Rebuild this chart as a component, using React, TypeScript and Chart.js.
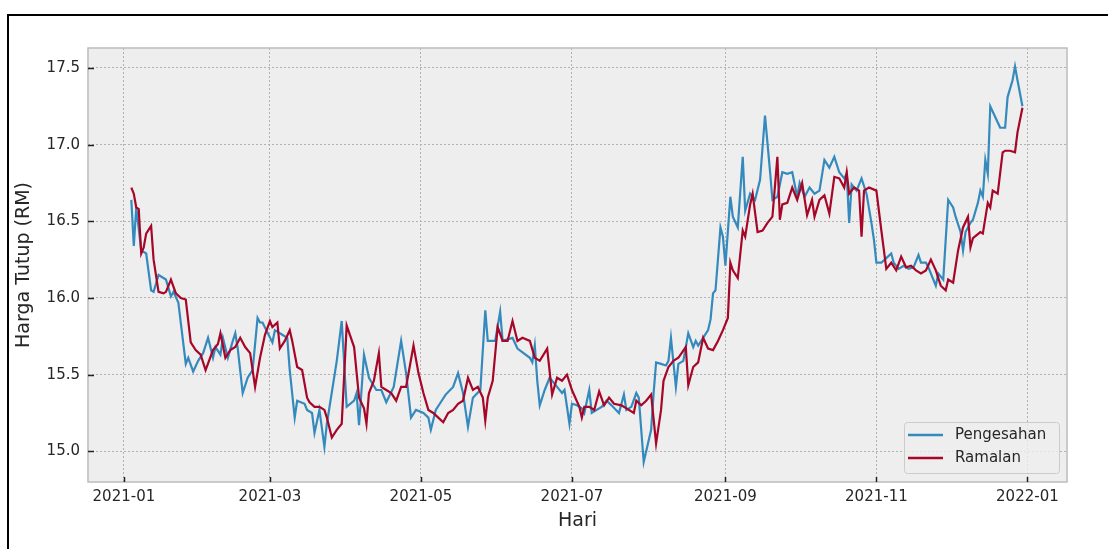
import React, { useEffect, useRef } from "react";
import { Chart, registerables } from "chart.js";

Chart.register(...registerables);

// Day offsets counted from 2021-01-01 ("Hari")
const pengesahanHari = [3, 4, 5, 7, 9, 11, 12, 14, 17, 19, 20, 22, 25, 26, 28, 30, 32, 34, 36, 37, 39, 40, 42, 44, 45, 46, 48, 50, 52, 54, 55, 56, 60, 61, 64, 66, 67, 69, 70, 73, 74, 76, 77, 79, 81, 82, 86, 88, 90, 93, 94, 95, 97, 99, 102, 104, 106, 109, 112, 114, 116, 118, 121, 123, 124, 126, 128, 130, 133, 135, 137, 139, 141, 144, 146, 147, 150, 152, 153, 157, 159, 164, 165, 166, 167, 168, 170, 172, 175, 177, 178, 180, 181, 183, 185, 186, 188, 189, 191, 193, 195, 197, 200, 202, 203, 205, 207, 208, 210, 213, 214, 215, 217, 219, 220, 221, 223, 224, 226, 228, 230, 231, 232, 236, 237, 238, 239, 241, 242, 243, 245, 246, 248, 250, 251, 253, 255, 257, 259, 261, 262, 264, 266, 268, 270, 272, 273, 275, 277, 279, 281, 283, 285, 287, 289, 291, 292, 293, 294, 296, 298, 300, 302, 303, 304, 306, 308, 310, 311, 313, 315, 317, 319, 321, 322, 324, 325, 327, 328, 329, 331, 333, 335, 336, 338, 339, 340, 342, 343, 345, 346, 347, 348, 349, 350, 352, 354, 356, 357, 359, 360, 361, 363];
const pengesahanHarga = [16.64, 16.34, 16.59, 16.31, 16.29, 16.05, 16.04, 16.15, 16.12, 16.01, 16.04, 15.97, 15.57, 15.61, 15.52, 15.59, 15.64, 15.74, 15.61, 15.68, 15.63, 15.74, 15.61, 15.72, 15.77, 15.67, 15.38, 15.48, 15.53, 15.87, 15.84, 15.84, 15.71, 15.79, 15.76, 15.74, 15.53, 15.22, 15.33, 15.31, 15.27, 15.25, 15.12, 15.27, 15.03, 15.18, 15.59, 15.85, 15.29, 15.33, 15.38, 15.17, 15.63, 15.48, 15.40, 15.40, 15.32, 15.42, 15.72, 15.51, 15.22, 15.27, 15.25, 15.22, 15.14, 15.27, 15.32, 15.37, 15.42, 15.51, 15.38, 15.16, 15.35, 15.40, 15.92, 15.72, 15.72, 15.91, 15.72, 15.74, 15.67, 15.61, 15.58, 15.69, 15.46, 15.30, 15.40, 15.48, 15.42, 15.38, 15.40, 15.18, 15.31, 15.30, 15.28, 15.25, 15.40, 15.25, 15.27, 15.29, 15.33, 15.30, 15.25, 15.37, 15.27, 15.29, 15.38, 15.35, 14.93, 15.14, 15.38, 15.58, 15.57, 15.56, 15.59, 15.74, 15.42, 15.57, 15.59, 15.77, 15.68, 15.72, 15.69, 15.79, 15.86, 16.03, 16.05, 16.46, 16.40, 16.21, 16.66, 16.53, 16.46, 16.92, 16.57, 16.68, 16.64, 16.77, 17.19, 16.83, 16.64, 16.66, 16.82, 16.81, 16.82, 16.66, 16.75, 16.66, 16.72, 16.68, 16.70, 16.90, 16.85, 16.92, 16.82, 16.78, 16.81, 16.49, 16.74, 16.70, 16.78, 16.68, 16.49, 16.38, 16.23, 16.23, 16.26, 16.29, 16.23, 16.19, 16.21, 16.19, 16.20, 16.28, 16.23, 16.23, 16.20, 16.12, 16.08, 16.16, 16.12, 16.64, 16.59, 16.53, 16.43, 16.31, 16.43, 16.49, 16.51, 16.62, 16.70, 16.66, 16.90, 16.81, 17.25, 17.18, 17.11, 17.11, 17.31, 17.42, 17.51, 17.42, 17.25];

const ramalanHari = [3, 4, 5, 6, 7, 8, 9, 11, 12, 14, 16, 17, 19, 21, 23, 25, 27, 29, 31, 33, 36, 38, 39, 41, 43, 45, 47, 49, 51, 53, 55, 57, 59, 60, 62, 63, 65, 67, 68, 70, 72, 74, 75, 77, 79, 81, 82, 84, 86, 88, 90, 93, 95, 97, 98, 99, 101, 103, 104, 106, 108, 110, 112, 114, 117, 119, 121, 123, 125, 127, 129, 131, 133, 135, 137, 139, 141, 143, 145, 146, 147, 149, 151, 153, 155, 157, 159, 161, 164, 166, 168, 171, 173, 175, 177, 179, 181, 184, 185, 186, 188, 190, 192, 194, 196, 198, 201, 203, 206, 207, 209, 211, 213, 215, 217, 218, 220, 222, 224, 227, 228, 230, 232, 234, 236, 238, 240, 242, 244, 245, 246, 248, 250, 251, 253, 254, 256, 258, 260, 262, 264, 265, 266, 268, 270, 272, 274, 276, 278, 279, 281, 283, 285, 287, 289, 291, 292, 293, 295, 297, 298, 299, 301, 304, 306, 308, 310, 312, 314, 316, 318, 320, 322, 324, 326, 328, 330, 332, 333, 335, 337, 339, 341, 342, 343, 346, 347, 349, 350, 351, 353, 355, 356, 358, 360, 361, 363];
const ramalanHarga = [16.72, 16.68, 16.59, 16.58, 16.29, 16.33, 16.42, 16.47, 16.25, 16.04, 16.03, 16.04, 16.12, 16.03, 16.00, 15.99, 15.71, 15.66, 15.63, 15.53, 15.66, 15.70, 15.77, 15.61, 15.66, 15.68, 15.74, 15.68, 15.64, 15.42, 15.61, 15.76, 15.85, 15.81, 15.84, 15.67, 15.72, 15.79, 15.72, 15.55, 15.53, 15.35, 15.32, 15.29, 15.29, 15.27, 15.22, 15.09, 15.14, 15.18, 15.82, 15.68, 15.35, 15.28, 15.18, 15.38, 15.46, 15.64, 15.42, 15.40, 15.38, 15.33, 15.42, 15.42, 15.69, 15.51, 15.38, 15.27, 15.25, 15.22, 15.19, 15.25, 15.27, 15.31, 15.33, 15.48, 15.40, 15.42, 15.35, 15.20, 15.35, 15.46, 15.81, 15.72, 15.72, 15.85, 15.72, 15.74, 15.72, 15.61, 15.59, 15.67, 15.37, 15.48, 15.46, 15.50, 15.40, 15.29, 15.22, 15.29, 15.29, 15.27, 15.39, 15.30, 15.35, 15.31, 15.30, 15.28, 15.25, 15.33, 15.30, 15.33, 15.37, 15.05, 15.27, 15.46, 15.55, 15.59, 15.61, 15.68, 15.43, 15.55, 15.58, 15.74, 15.67, 15.66, 15.72, 15.79, 15.87, 16.23, 16.18, 16.13, 16.44, 16.40, 16.61, 16.68, 16.43, 16.44, 16.49, 16.53, 16.92, 16.51, 16.61, 16.62, 16.72, 16.64, 16.75, 16.54, 16.64, 16.53, 16.64, 16.67, 16.55, 16.79, 16.78, 16.72, 16.82, 16.68, 16.72, 16.70, 16.40, 16.70, 16.72, 16.70, 16.44, 16.19, 16.23, 16.18, 16.27, 16.20, 16.21, 16.18, 16.16, 16.18, 16.25, 16.18, 16.08, 16.05, 16.12, 16.10, 16.31, 16.46, 16.53, 16.33, 16.39, 16.43, 16.42, 16.62, 16.59, 16.70, 16.68, 16.95, 16.96, 16.96, 16.95, 17.08, 17.24];

const bulanTickHari = [0, 59, 120, 181, 243, 304, 365];
const bulanTickLabel = ["2021-01", "2021-03", "2021-05", "2021-07", "2021-09", "2021-11", "2022-01"];
const hargaTicks = [15.0, 15.5, 16.0, 16.5, 17.0, 17.5];

const FONT = "'DejaVu Sans', sans-serif";
const TEXT = "#262626";

const decorPlugin = {
  id: "decor",
  beforeDraw(chart: any) {
    const { ctx, chartArea: a } = chart;
    ctx.save();
    ctx.fillStyle = "#eeeeee";
    ctx.fillRect(a.left, a.top, a.right - a.left, a.bottom - a.top);
    ctx.restore();
  },
  afterDraw(chart: any) {
    const { ctx, chartArea: a, scales } = chart;
    ctx.save();
    // frame
    ctx.strokeStyle = "#bcbcbc";
    ctx.lineWidth = 1.5;
    ctx.strokeRect(a.left, a.top, a.right - a.left, a.bottom - a.top);
    // inward ticks
    ctx.strokeStyle = "#222222";
    ctx.lineWidth = 1.5;
    scales.y.ticks.forEach((t: any) => {
      const y = Math.round(scales.y.getPixelForValue(t.value)) + 0.5;
      ctx.beginPath();
      ctx.moveTo(a.left, y);
      ctx.lineTo(a.left + 6, y);
      ctx.stroke();
    });
    scales.x.ticks.forEach((t: any) => {
      const x = Math.round(scales.x.getPixelForValue(t.value)) + 0.5;
      ctx.beginPath();
      ctx.moveTo(x, a.bottom);
      ctx.lineTo(x, a.bottom - 5);
      ctx.stroke();
    });
    // legend
    const w = 155;
    const h = 51;
    const x0 = a.right - 8 - w;
    const y0 = a.bottom - 9 - h;
    ctx.fillStyle = "rgba(238,238,238,0.8)";
    ctx.strokeStyle = "#cccccc";
    ctx.lineWidth = 1;
    ctx.beginPath();
    if ((ctx as any).roundRect) (ctx as any).roundRect(x0 + 0.5, y0 + 0.5, w, h, 3);
    else ctx.rect(x0 + 0.5, y0 + 0.5, w, h);
    ctx.fill();
    ctx.stroke();
    ctx.font = `15px ${FONT}`;
    ctx.textBaseline = "middle";
    ctx.textAlign = "left";
    chart.data.datasets.forEach((ds: any, i: number) => {
      const y = y0 + 13 + i * 23;
      ctx.strokeStyle = ds.borderColor;
      ctx.lineWidth = 2.5;
      ctx.beginPath();
      ctx.moveTo(x0 + 4, y);
      ctx.lineTo(x0 + 39, y);
      ctx.stroke();
      ctx.fillStyle = TEXT;
      ctx.fillText(ds.label, x0 + 51, y);
    });
    ctx.restore();
  },
};

export default function App() {
  const ref = useRef<HTMLCanvasElement>(null);
  useEffect(() => {
    if (!ref.current) return;
    const chart = new Chart(ref.current, {
      type: "line",
      data: {
        datasets: [
          {
            label: "Pengesahan",
            data: pengesahanHari.map((h, i) => ({ x: h, y: pengesahanHarga[i] })),
            borderColor: "#348ABD",
            borderWidth: 2.2,
            pointRadius: 0,
            tension: 0,
            order: 2,
          },
          {
            label: "Ramalan",
            data: ramalanHari.map((h, i) => ({ x: h, y: ramalanHarga[i] })),
            borderColor: "#A60628",
            borderWidth: 2.2,
            pointRadius: 0,
            tension: 0,
            order: 1,
          },
        ],
      },
      options: {
        animation: false,
        responsive: false,
        maintainAspectRatio: false,
        layout: { padding: { left: 0, top: 48, right: 41, bottom: 0 } },
        plugins: { legend: { display: false }, tooltip: { enabled: false } },
        scales: {
          x: {
            type: "linear",
            min: -14.5,
            max: 381,
            afterBuildTicks: (s: any) => {
              s.ticks = bulanTickHari.map((v) => ({ value: v }));
            },
            afterFit: (s: any) => {
              s.height = 67;
            },
            grid: { color: "#b2b2b2", lineWidth: 1, drawTicks: false },
            border: { display: false, dash: [2, 2] },
            ticks: {
              padding: 6,
              maxRotation: 0,
              autoSkip: false,
              color: TEXT,
              font: { family: FONT, size: 15 },
              callback: (v: any) => {
                const i = bulanTickHari.indexOf(Number(v));
                return i >= 0 ? bulanTickLabel[i] : "";
              },
            },
            title: {
              display: true,
              text: "Hari",
              color: TEXT,
              font: { family: FONT, size: 19 },
              padding: { top: 0, bottom: 17 },
            },
          },
          y: {
            min: 14.8,
            max: 17.63,
            afterBuildTicks: (s: any) => {
              s.ticks = hargaTicks.map((v) => ({ value: v }));
            },
            afterFit: (s: any) => {
              s.width = 88;
            },
            grid: { color: "#b2b2b2", lineWidth: 1, drawTicks: false },
            border: { display: false, dash: [2, 2] },
            ticks: {
              padding: 8,
              color: TEXT,
              font: { family: FONT, size: 15 },
              callback: (v: any) => Number(v).toFixed(1),
            },
            title: {
              display: true,
              text: "Harga Tutup (RM)",
              color: TEXT,
              font: { family: FONT, size: 19 },
              padding: { top: 13, bottom: 0 },
            },
          },
        },
      },
      plugins: [decorPlugin],
    } as any);
    return () => chart.destroy();
  }, []);

  return (
    <div style={{ position: "fixed", left: 0, top: 0, width: 1108, height: 549, background: "#ffffff" }}>
      <canvas ref={ref} width={1108} height={549} style={{ display: "block", width: 1108, height: 549 }} />
      <div style={{ position: "absolute", left: 7, top: 14, width: 1101, height: 2, background: "#000000" }} />
      <div style={{ position: "absolute", left: 7, top: 14, width: 2, height: 535, background: "#000000" }} />
    </div>
  );
}
